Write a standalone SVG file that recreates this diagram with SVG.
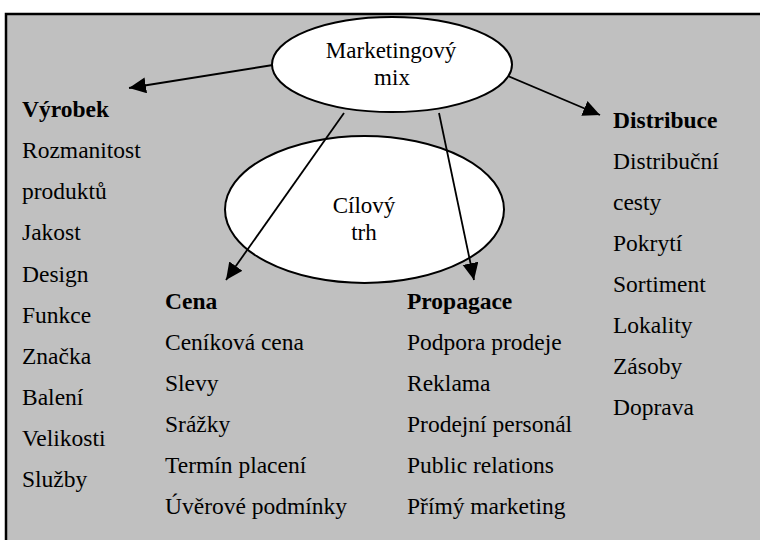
<svg xmlns="http://www.w3.org/2000/svg" width="760" height="540" viewBox="0 0 760 540" font-family="'Liberation Serif', 'Times New Roman', 'DejaVu Serif', serif">
  <defs>
    <marker id="arrow" markerUnits="userSpaceOnUse" markerWidth="18" markerHeight="17" refX="17" refY="8" orient="auto">
      <path d="M0,0 L17,8 L0,16 z" fill="#000"/>
    </marker>
    <style>
      text { font-family: 'Liberation Serif', 'Times New Roman', 'DejaVu Serif', serif; font-size: 23.5px; fill: #000; }
      .head { font-weight: bold; }
      .mid { text-anchor: middle; font-size: 23px; }
      .node { fill: #fff; stroke: #000; stroke-width: 2; }
      .conn { stroke: #000; stroke-width: 1.8; fill: none; marker-end: url(#arrow); }
    </style>
  </defs>

  <!-- page background and frame -->
  <rect x="0" y="0" width="760" height="540" fill="#fff"/>
  <rect x="6" y="14" width="800" height="600" fill="#c0c0c0" stroke="#000" stroke-width="2.5"/>

  <!-- target market -->
  <g id="cilovy-trh">
    <ellipse class="node" cx="364.5" cy="209.5" rx="139.5" ry="73.5"/>
    <text class="mid" x="364" y="213">Cílový</text>
    <text class="mid" x="364" y="240">trh</text>
  </g>

  <!-- connectors -->
  <g id="connectors">
    <line class="conn" x1="273" y1="65" x2="129" y2="88"/>
    <line class="conn" x1="508" y1="76" x2="600" y2="115"/>
    <line class="conn" x1="344" y1="113" x2="226" y2="280"/>
    <line class="conn" x1="439" y1="113" x2="474" y2="280"/>
  </g>

  <!-- marketing mix -->
  <g id="marketingovy-mix">
    <ellipse class="node" cx="392" cy="64.5" rx="120" ry="47.5"/>
    <text class="mid" x="391" y="58">Marketingový</text>
    <text class="mid" x="392" y="85">mix</text>
  </g>

  <g id="vyrobek">
    <text class="head" x="22" y="117">Výrobek</text>
    <text x="22" y="158">Rozmanitost</text>
    <text x="22" y="199">produktů</text>
    <text x="22" y="240">Jakost</text>
    <text x="22" y="282">Design</text>
    <text x="22" y="323">Funkce</text>
    <text x="22" y="364">Značka</text>
    <text x="22" y="405">Balení</text>
    <text x="22" y="446">Velikosti</text>
    <text x="22" y="487">Služby</text>
  </g>

  <g id="cena">
    <text class="head" x="165" y="308.5">Cena</text>
    <text x="165" y="349.5">Ceníková cena</text>
    <text x="165" y="390.5">Slevy</text>
    <text x="165" y="431.5">Srážky</text>
    <text x="165" y="472.5">Termín placení</text>
    <text x="165" y="513.5">Úvěrové podmínky</text>
  </g>

  <g id="propagace">
    <text class="head" x="407" y="308.5">Propagace</text>
    <text x="407" y="349.5">Podpora prodeje</text>
    <text x="407" y="390.5">Reklama</text>
    <text x="407" y="431.5">Prodejní personál</text>
    <text x="407" y="472.5">Public relations</text>
    <text x="407" y="513.5">Přímý marketing</text>
  </g>

  <g id="distribuce">
    <text class="head" x="613" y="128">Distribuce</text>
    <text x="613" y="169">Distribuční</text>
    <text x="613" y="210">cesty</text>
    <text x="613" y="251">Pokrytí</text>
    <text x="613" y="292">Sortiment</text>
    <text x="613" y="333">Lokality</text>
    <text x="613" y="374">Zásoby</text>
    <text x="613" y="415">Doprava</text>
  </g>
</svg>
